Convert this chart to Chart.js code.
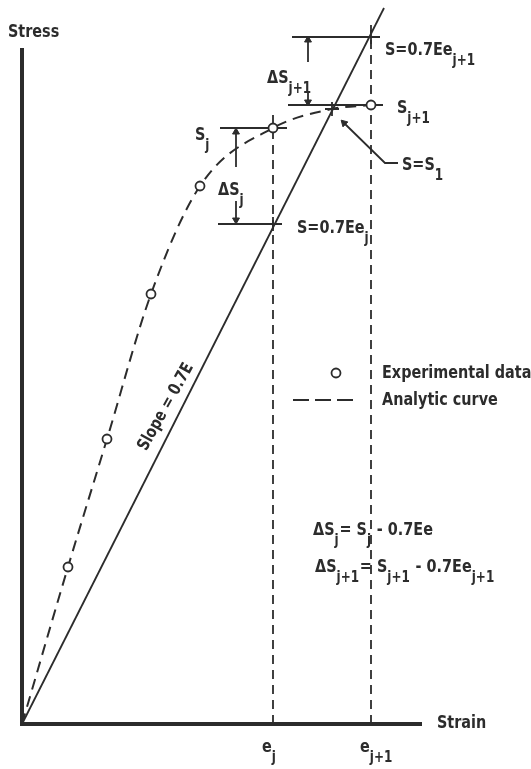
<!DOCTYPE html>
<html>
<head>
<meta charset="utf-8">
<script src="https://cdn.jsdelivr.net/npm/chart.js"></script>
<style>
  html, body { margin: 0; padding: 0; background: #fff; }
  #wrap { width: 531px; height: 769px; }
</style>
</head>
<body>
<div id="wrap"><canvas id="stressChart" width="531" height="769"></canvas></div>
<script>
// Stress-strain sketch: data (arbitrary units)
const expStrain = [46, 85, 129, 178, 251, 349];
const expStress = [157, 285, 430, 538, 596, 619];

const curveStrain = [0, 46, 85, 129, 178, 251, 310, 349];
const curveStress = [0, 157, 285, 430, 538, 596, 615, 619];

const slopeStrain = [0, 362];
const slopeStress = [0, 716];

const strainMarks = [251, 349];          // e_j, e_j+1
const strainLabels = ["e_{j}", "e_{j+1}"];
const dropTops = [610, 704];             // where the dashed drop lines start

// stress levels and the short horizontal lines that mark them
const levelStress = [687, 619, 596, 500];
const levelFrom = [270, 266, 198, 196];
const levelTo = [358, 361, 265, 260];

const crossStrain = [251, 349, 310];
const crossStress = [500, 687, 615];

// dimension arrows: x, tail, head
const arrowStrain = [286, 286, 214, 214];
const arrowTail = [662, 632, 557, 523];
const arrowHead = [684, 622, 592, 504];

const leaderStrain = [322, 363, 376];
const leaderStress = [601, 561, 561];

const axisX = [0, 400];
const axisY = [0, 676];

const INK = "#2c2c2c";
const FONT = "'DejaVu Sans', sans-serif";
const SQUEEZE = 0.8;   // the figure uses a condensed face

const pts = (xs, ys) => xs.map((x, i) => ({ x: x, y: ys[i] }));

function lineSet(data, extra) {
  return Object.assign({
    data: data,
    showLine: true,
    borderColor: INK,
    borderWidth: 1.8,
    pointRadius: 0,
    clip: false
  }, extra || {});
}

const datasets = [];

// circles first so they sit on top
datasets.push({
  data: pts(expStrain, expStress).concat([{ x: 314, y: 351 }]),
  showLine: false,
  pointRadius: 4.5,
  pointBackgroundColor: "#fff",
  pointBorderColor: INK,
  pointBorderWidth: 1.8,
  clip: false
});

// legend dash sample
datasets.push(lineSet([{ x: 271, y: 324 }, { x: 336, y: 324 }], { borderDash: [16, 6] }));

datasets.push(lineSet(pts(curveStrain, curveStress), {
  borderDash: [11, 7],
  borderWidth: 2,
  cubicInterpolationMode: "monotone"
}));

datasets.push(lineSet(pts(slopeStrain, slopeStress)));

strainMarks.forEach((x, i) => {
  datasets.push(lineSet([{ x: x, y: 0 }, { x: x, y: dropTops[i] }], { borderDash: [9, 6] }));
});

levelStress.forEach((y, i) => {
  datasets.push(lineSet([{ x: levelFrom[i], y: y }, { x: levelTo[i], y: y }]));
});

arrowStrain.forEach((x, i) => {
  const up = arrowHead[i] > arrowTail[i];
  datasets.push(lineSet([{ x: x, y: arrowTail[i] }, { x: x, y: arrowHead[i] }], {
    pointRadius: [0, 4],
    pointStyle: "triangle",
    rotation: up ? 0 : 180,
    pointBackgroundColor: INK,
    pointBorderColor: INK,
    pointBorderWidth: 1
  }));
});

datasets.push(lineSet(pts(leaderStrain, leaderStress), {
  pointRadius: [4, 0, 0],
  pointStyle: "triangle",
  rotation: -45,
  pointBackgroundColor: INK,
  pointBorderColor: INK,
  pointBorderWidth: 1
}));

datasets.push({
  data: pts(crossStrain, crossStress),
  showLine: false,
  pointStyle: "cross",
  pointRadius: 7,
  pointBorderColor: INK,
  pointBorderWidth: 1.8,
  clip: false
});

// axes
datasets.push(lineSet([{ x: 0, y: axisY[1] }, { x: 0, y: 0 }, { x: axisX[1], y: 0 }], {
  borderWidth: 4,
  borderCapStyle: "butt"
}));

// text with _{...} subscripts, squeezed horizontally
function richText(ctx, str, x, y, size) {
  const parts = str.split(/_\{([^}]*)\}/);
  ctx.save();
  ctx.translate(x, y);
  ctx.scale(SQUEEZE, 1);
  let cx = 0;
  parts.forEach((p, i) => {
    if (!p) return;
    const sub = i % 2 === 1;
    ctx.font = "bold " + (sub ? Math.round(size * 0.82) : size) + "px " + FONT;
    ctx.fillText(p, cx, sub ? Math.round(size * 0.55) : 0);
    cx += ctx.measureText(p).width + (sub ? 1 : 0);
  });
  ctx.restore();
}

const labels = [
  { t: "Stress", x: -14, y: 687 },
  { t: "Strain", x: 415, y: -4 },
  { t: "S=0.7Ee_{j+1}", x: 363, y: 669 },
  { t: "ΔS_{j+1}", x: 245, y: 641 },
  { t: "S_{j+1}", x: 375, y: 611 },
  { t: "S_{j}", x: 173, y: 584 },
  { t: "ΔS_{j}", x: 196, y: 529 },
  { t: "S=0.7Ee_{j}", x: 275, y: 491 },
  { t: "S=S_{1}", x: 380, y: 554 },
  { t: "Experimental data", x: 360, y: 346 },
  { t: "Analytic curve", x: 360, y: 319 },
  { t: "ΔS_{j}= S_{j} - 0.7Ee", x: 291, y: 189 },
  { t: "ΔS_{j+1}= S_{j+1} - 0.7Ee_{j+1}", x: 293, y: 152 }
];

const textPlugin = {
  id: "sketchText",
  afterDatasetsDraw(chart) {
    const ctx = chart.ctx;
    const xs = chart.scales.x, ys = chart.scales.y;
    ctx.save();
    ctx.fillStyle = INK;
    ctx.textBaseline = "alphabetic";
    ctx.textAlign = "left";
    labels.forEach(l => richText(ctx, l.t, xs.getPixelForValue(l.x), ys.getPixelForValue(l.y), 18));
    strainMarks.forEach((m, i) => {
      richText(ctx, strainLabels[i], xs.getPixelForValue(m) - 11, ys.getPixelForValue(-28), 18);
    });
    // slope label along the straight line
    ctx.translate(xs.getPixelForValue(144), ys.getPixelForValue(317));
    ctx.rotate(-61 * Math.PI / 180);
    ctx.scale(SQUEEZE, 1);
    ctx.textAlign = "center";
    ctx.textBaseline = "middle";
    ctx.font = "bold 17px " + FONT;
    ctx.fillText("Slope = 0.7E", 0, 0);
    ctx.restore();
  }
};

new Chart(document.getElementById("stressChart"), {
  type: "scatter",
  data: { datasets: datasets },
  options: {
    responsive: false,
    animation: false,
    devicePixelRatio: 1,
    layout: { autoPadding: false, padding: { left: 22, top: 0, right: 0, bottom: 45 } },
    plugins: { legend: { display: false }, tooltip: { enabled: false } },
    scales: {
      x: { type: "linear", min: 0, max: 509, display: false },
      y: { type: "linear", min: 0, max: 724, display: false }
    }
  },
  plugins: [textPlugin]
});
</script>
</body>
</html>
